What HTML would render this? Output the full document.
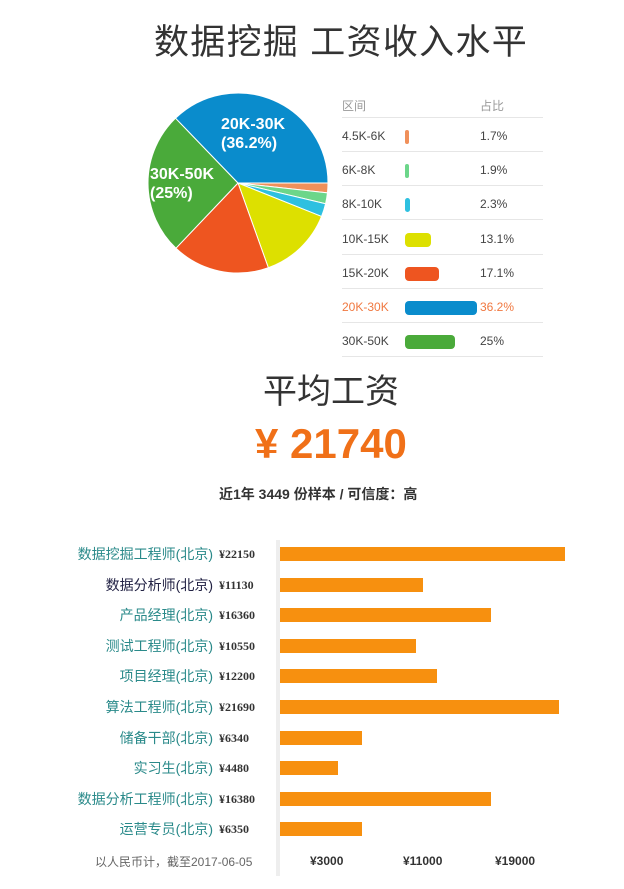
<!DOCTYPE html>
<html><head><meta charset="utf-8"><style>
body{margin:0;width:624px;height:889px;background:#fff;position:relative;overflow:hidden;font-family:"Liberation Sans","Noto Sans CJK SC",sans-serif}
.a{position:absolute;white-space:nowrap}
.tl{position:absolute;left:342px;width:201px;height:1px;background:#e6e6e6}
.lab{position:absolute;right:411px;font-size:14px;color:#2a8a8a;white-space:nowrap}
.val{position:absolute;left:219px;font-size:12px;font-weight:bold;color:#333;font-family:"Liberation Serif",serif}
.bar{position:absolute;left:280px;height:14px;background:#f7900f}
</style></head><body>
<div class="a" style="left:154px;top:14px;font-size:35px;color:#333;letter-spacing:1.3px">数据挖掘 工资收入水平</div>
<svg class="a" style="left:0;top:0" width="340" height="290" id="pie"></svg>
<div class="a" style="left:342px;top:97px;font-size:12px;color:#999">区间</div>
<div class="a" style="left:480px;top:97px;font-size:12px;color:#999">占比</div>
<div class="tl" style="top:117px"></div><div class="tl" style="top:151px"></div><div class="tl" style="top:185px"></div><div class="tl" style="top:219px"></div><div class="tl" style="top:254px"></div><div class="tl" style="top:288px"></div><div class="tl" style="top:322px"></div><div class="tl" style="top:356px"></div>
<div id="rows"></div>
<div class="a" style="left:263px;top:364px;font-size:34px;color:#333">平均工资</div>
<div class="a" style="left:255px;top:420px;font-size:42px;font-weight:bold;color:#f07018">¥ 21740</div>
<div class="a" style="left:219px;top:484px;font-size:14px;font-weight:bold;color:#333">近1年 3449 份样本 / 可信度：高</div>
<div class="a" style="left:276px;top:540px;width:4px;height:336px;background:#eee"></div>
<div id="bars"></div>
<div class="a" style="left:95px;top:853px;font-size:12px;color:#666">以人民币计，截至2017-06-05</div>
<div class="a" style="left:310px;top:854px;font-size:12px;font-weight:bold;color:#333">¥3000</div>
<div class="a" style="left:403px;top:854px;font-size:12px;font-weight:bold;color:#333">¥11000</div>
<div class="a" style="left:495px;top:854px;font-size:12px;font-weight:bold;color:#333">¥19000</div>
<div class="a" style="left:221px;top:115px;font-size:16px;font-weight:bold;color:#fff;line-height:19px">20K-30K<br>(36.2%)</div>
<div class="a" style="left:150px;top:165px;font-size:16px;font-weight:bold;color:#fff;line-height:19px">30K-50K<br>(25%)</div>
<script>
var d=[["4.5K-6K",1.7,"#f0905a"],["6K-8K",1.9,"#6cd68a"],["8K-10K",2.3,"#2ec0e0"],["10K-15K",13.1,"#dde000"],["15K-20K",17.1,"#ee5520"],["20K-30K",36.2,"#0a8ccc"],["30K-50K",25,"#4aaa3a"]];
var pieOrder=[0,1,2,3,4,6,5],tot=97.3,a=0,s="",cx=238,cy=183,r=90;
pieOrder.forEach(function(i){var f=d[i][1]/tot*2*Math.PI,b=a+f;
s+='<path d="M'+cx+','+cy+' L'+(cx+r*Math.cos(a))+','+(cy+r*Math.sin(a))+' A'+r+','+r+' 0 '+(f>Math.PI?1:0)+' 1 '+(cx+r*Math.cos(b))+','+(cy+r*Math.sin(b))+'Z" fill="'+d[i][2]+'" stroke="#fff" stroke-width="1"/>';a=b;});
document.getElementById("pie").innerHTML=s;
var h="";d.forEach(function(x,i){var y=129+i*34.2,c=i==5?"#f07840":"#444",w=Math.max(4,x[1]*2);
h+='<div class="a" style="left:342px;top:'+y+'px;font-size:12px;color:'+c+'">'+x[0]+'</div><div class="a" style="left:405px;top:'+(y+1)+'px;width:'+w+'px;height:14px;border-radius:4px;background:'+x[2]+'"></div><div class="a" style="left:480px;top:'+y+'px;font-size:12px;color:'+c+'">'+x[1]+'%</div>';});
document.getElementById("rows").innerHTML=h;
var b=[["数据挖掘工程师(北京)",22150],["数据分析师(北京)",11130],["产品经理(北京)",16360],["测试工程师(北京)",10550],["项目经理(北京)",12200],["算法工程师(北京)",21690],["储备干部(北京)",6340],["实习生(北京)",4480],["数据分析工程师(北京)",16380],["运营专员(北京)",6350]];
h="";b.forEach(function(x,i){var y=554+i*30.6;
h+='<div class="lab" style="top:'+(y-10)+'px;'+(i==1?'color:#224':'')+'">'+x[0]+'</div><div class="val" style="top:'+(y-7)+'px">¥'+x[1]+'</div><div class="bar" style="top:'+(y-7)+'px;width:'+(x[1]*0.01287)+'px"></div>';});
document.getElementById("bars").innerHTML=h;
</script>
</body></html>
